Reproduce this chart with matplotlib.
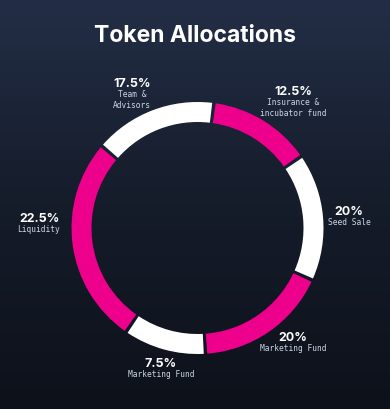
import numpy as np
import matplotlib
matplotlib.use("Agg")
import matplotlib.pyplot as plt
from matplotlib.patches import Wedge
from matplotlib.colors import LinearSegmentedColormap

# segments, clockwise from the top
pct_labels = ["12.5%", "20%", "20%", "7.5%", "22.5%", "17.5%"]
names = ["Insurance &\nincubator fund", "Seed Sale", "Marketing Fund",
         "Marketing Fund", "Liquidity", "Team &\nAdvisors"]
# arc sizes as drawn in the picture (share of the full ring)
arc_values = [13.3, 16.4, 17.2, 10.6, 26.7, 15.8]
colors = ["#ec008c", "#ffffff", "#ec008c", "#ffffff", "#ec008c", "#ffffff"]

start_deg = 7.5      # first boundary, clockwise from 12 o'clock
gap_deg = 1.6
cx, cy = 197.5, 181  # ring centre in pixels (y up)
r_out, ring_w = 126, 20

# label anchors (pixels, y down) for each segment
label_pos = [(293, 92), (349, 212), (293, 338), (161, 364), (39, 219), (132, 84)]

W, H = 390, 410
fig = plt.figure(figsize=(W / 100, H / 100), dpi=100)
ax = fig.add_axes([0, 0, 1, 1])
ax.set_xlim(0, W)
ax.set_ylim(0, H)
ax.set_aspect("auto")
ax.axis("off")

# background gradient
cmap = LinearSegmentedColormap.from_list("bg", ["#0d111a", "#151c2a", "#232e46"])
grad = np.linspace(0, 1, 256).reshape(-1, 1)
ax.imshow(grad, extent=[0, W, 0, H], origin="lower", cmap=cmap, aspect="auto", zorder=0)

# ring
edges = start_deg + 3.6 * np.concatenate([[0], np.cumsum(arc_values)])
for i, c in enumerate(colors):
    a, b = edges[i] + gap_deg / 2, edges[i + 1] - gap_deg / 2
    ax.add_patch(Wedge((cx, cy), r_out, 90 - b, 90 - a, width=ring_w,
                       facecolor=c, edgecolor="none", zorder=2))

ax.text(W / 2, H - 36, "Token Allocations", ha="center", va="center",
        color="white", fontsize=16.5, fontweight="bold", family="Inter")

for (x, y), p, n in zip(label_pos, pct_labels, names):
    ax.text(x, H - y, p, ha="center", va="center", color="white",
            fontsize=9, fontweight="bold", family="Inter")
    ax.text(x, H - y - 6, n, ha="center", va="top", color="#cdd6e6",
            fontsize=5.7, family="DejaVu Sans Mono", linespacing=1.25)

fig.savefig("out.png", dpi=100)
